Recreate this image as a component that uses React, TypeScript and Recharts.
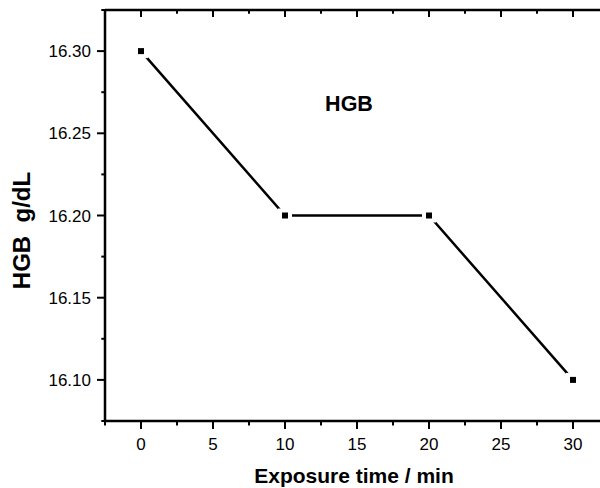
import React from 'react';
import { LineChart, Line, XAxis, YAxis } from 'recharts';

const times = [0, 10, 20, 30];
const hgbValues = [16.3, 16.2, 16.2, 16.1];
const xMajorTicks = [0, 5, 10, 15, 20, 25, 30];
const xMinorTicks = [-2.5, 2.5, 7.5, 12.5, 17.5, 22.5, 27.5, 32.5];
const yMajorTicks = [16.1, 16.15, 16.2, 16.25, 16.3];
const yMinorTicks = [16.075, 16.125, 16.175, 16.225, 16.275, 16.325];

const data = times.map((t, i) => ({ time: t, hgb: hgbValues[i] }));
const allXTicks = [...xMinorTicks, ...xMajorTicks].sort((a, b) => a - b);
const allYTicks = [...yMinorTicks, ...yMajorTicks].sort((a, b) => a - b);

const FONT = '"Liberation Sans", Arial, sans-serif';

const isMajor = (list: number[], v: number) => list.some((m) => Math.abs(m - v) < 1e-6);

const BottomTick = (props: any) => {
  const { x, y, payload } = props;
  const major = isMajor(xMajorTicks, payload.value);
  return (
    <g>
      <line x1={x} x2={x} y1={y} y2={y + (major ? 8 : 4.5)} stroke="#000" strokeWidth={2} />
      {major && (
        <text x={x} y={y + 28.5} textAnchor="middle" fontSize={17} fontFamily={FONT} fill="#000">
          {payload.value}
        </text>
      )}
    </g>
  );
};

const TopTick = (props: any) => {
  const { x, y, payload } = props;
  const major = isMajor(xMajorTicks, payload.value);
  return <line x1={x} x2={x} y1={y} y2={y + (major ? 7 : 3.7)} stroke="#000" strokeWidth={2} />;
};

const LeftTick = (props: any) => {
  const { x, y, payload } = props;
  const major = isMajor(yMajorTicks, payload.value);
  return (
    <g>
      <line x1={x} x2={x - (major ? 8 : 3.7)} y1={y} y2={y} stroke="#000" strokeWidth={2} />
      {major && (
        <text x={x - 14} y={y + 6} textAnchor="end" fontSize={17} fontFamily={FONT} fill="#000">
          {payload.value.toFixed(2)}
        </text>
      )}
    </g>
  );
};

// square marker with a white gap around it, like Origin does
const GapDot = (props: any) => {
  const { cx, cy } = props;
  if (cx == null || cy == null) return null;
  return (
    <g>
      <rect x={cx - 7} y={cy - 7} width={14} height={14} fill="#fff" />
      <rect x={cx - 3} y={cy - 3} width={6} height={6} fill="#000" />
    </g>
  );
};

export default function App() {
  return (
    <div style={{ position: 'fixed', left: 0, top: 0, width: 600, height: 488, overflow: 'hidden', background: '#fff' }}>
      <div style={{ position: 'absolute', left: 8, top: 8 }}>
        <LineChart width={620} height={480} data={data} margin={{ top: 1, right: 19, bottom: 0, left: 0 }}>
          <XAxis
            xAxisId="top"
            orientation="top"
            dataKey="time"
            type="number"
            domain={[-2.5, 32.5]}
            ticks={allXTicks}
            interval={0}
            height={1}
            tickSize={0}
            tickMargin={0}
            tickLine={false}
            tick={<TopTick />}
            axisLine={{ stroke: '#000', strokeWidth: 2.5 }}
          />
          <XAxis
            xAxisId="bottom"
            dataKey="time"
            type="number"
            domain={[-2.5, 32.5]}
            ticks={allXTicks}
            interval={0}
            height={67}
            tickSize={0}
            tickMargin={0}
            tickLine={false}
            tick={<BottomTick />}
            axisLine={{ stroke: '#000', strokeWidth: 2.5 }}
            label={{
              value: 'Exposure time / min',
              position: 'insideBottom',
              offset: 5,
              dx: -3,
              style: { fontSize: 21, fontWeight: 'bold', fontFamily: FONT, fill: '#000' },
            }}
          />
          <YAxis
            type="number"
            domain={[16.075, 16.325]}
            ticks={allYTicks}
            interval={0}
            width={97}
            tickSize={0}
            tickMargin={0}
            tickLine={false}
            tick={<LeftTick />}
            axisLine={{ stroke: '#000', strokeWidth: 2.5 }}
            label={{
              value: 'HGB  g/dL',
              position: 'insideLeft',
              content: (p: any) => {
                const vb = p.viewBox;
                const cy = vb.y + vb.height / 2 + 15;
                return (
                  <text
                    x={22}
                    y={cy}
                    transform={`rotate(-90, 22, ${cy})`}
                    textAnchor="middle"
                    fontSize={24}
                    fontWeight="bold"
                    fontFamily={FONT}
                    fill="#000"
                    style={{ whiteSpace: 'pre' }}
                  >
                    HGB  g/dL
                  </text>
                );
              },
            }}
          />
          <Line
            xAxisId="bottom"
            type="linear"
            dataKey="hgb"
            stroke="#000"
            strokeWidth={2.5}
            dot={<GapDot />}
            activeDot={false}
            isAnimationActive={false}
          />
          <text x={341} y={103} textAnchor="middle" fontSize={21.5} fontWeight="bold" fontFamily={FONT} fill="#000">
            HGB
          </text>
        </LineChart>
      </div>
    </div>
  );
}
